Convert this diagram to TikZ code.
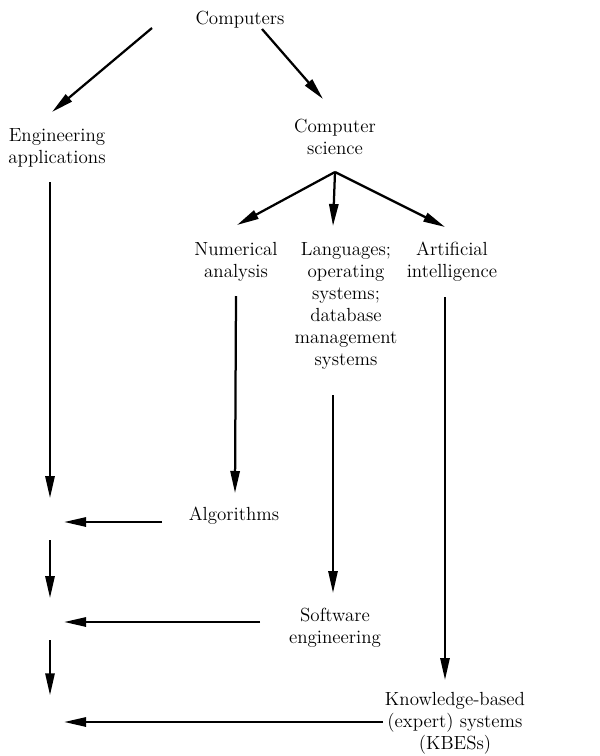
\documentclass[tikz,border=0pt]{standalone}
\usepackage{xcolor}
\usepackage{tikz}
\usetikzlibrary{arrows.meta,positioning}

\tikzset{
  txt/.style={align=center, inner sep=0pt, font=\fontsize{13.5}{15.6}\selectfont},
  arr/.style={line width=1.6pt, -{Triangle[length=5.5mm,width=2.3mm]}},
  seg/.style={line width=1.6pt}
}

\begin{document}
\begin{tikzpicture}[x=0.025cm,y=-0.025cm]
\useasboundingbox (0,0) rectangle (599,756);
\node[txt] (comp) at (240,20) {Computers};
\node[txt] (eng) at (57,148) {Engineering\\applications};
\node[txt] (cs) at (335,137) {Computer\\science};
\node[txt] (num) at (236,262) {Numerical\\analysis};
\node[txt] (lang) at (346,306) {Languages;\\operating\\systems;\\database\\management\\systems};
\node[txt] (ai) at (452,262) {Artificial\\intelligence};
\node[txt] (alg) at (234,516) {Algorithms};
\node[txt] (soft) at (335,628) {Software\\engineering};
\node[txt] (kbes) at (455,723) {Knowledge-based\\(expert) systems\\(KBESs)};
\coordinate (fork) at ([shift={(0,35)}]cs.center);
\coordinate (e1) at (50,522);
\coordinate (e2) at (50,622);
\coordinate (e3) at (50,722);
% top split
\draw[arr] ([shift={(-88,8)}]comp.center) -- ([shift={(-5,-36)}]eng.center);
\draw[arr] ([shift={(22,9)}]comp.center) -- ([shift={(-12,-38)}]cs.center);
\draw[arr] (fork) -- ([shift={(1,-37)}]num.center);
\draw[arr] (fork) -- ([shift={(-13,-80)}]lang.center);
\draw[arr] (fork) -- ([shift={(-7,-35)}]ai.center);
% down to the results
\draw[arr] ([shift={(0,34)}]num.center) -- ([shift={(1,-23)}]alg.center);
\draw[arr] ([shift={(-13,89)}]lang.center) -- ([shift={(-2,-35)}]soft.center);
\draw[arr] ([shift={(-7,35)}]ai.center) -- ([shift={(-10,-43)}]kbes.center);
% back into engineering applications
\draw[arr, shorten >=10] ([shift={(-72,6)}]alg.center) -- (e1);
\draw[arr, shorten >=10] ([shift={(-75,-6)}]soft.center) -- (e2);
\draw[arr, shorten >=10] ([shift={(-72,-1)}]kbes.center) -- (e3);
\draw[arr, shorten >=17] ([shift={(-7,34)}]eng.center) -- (e1);
\draw[arr, shorten <=13, shorten >=17] (e1) -- (e2);
\draw[arr, shorten <=13, shorten >=19] (e2) -- (e3);
\end{tikzpicture}
\end{document}
